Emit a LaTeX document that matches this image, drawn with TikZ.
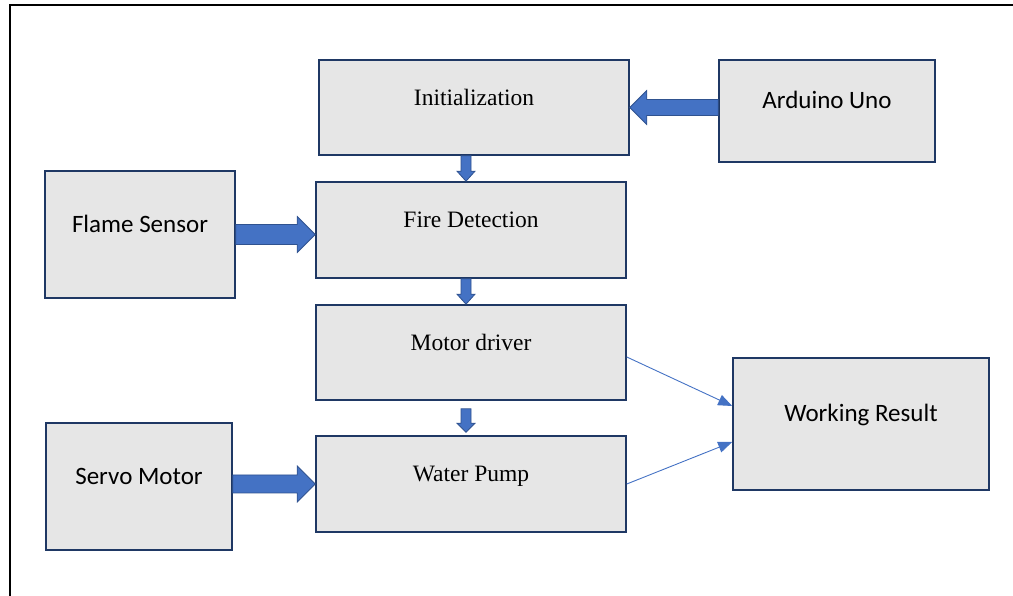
\documentclass[tikz,border=0pt]{standalone}
\usepackage{fontspec}
\setmainfont{Liberation Serif}
\newfontfamily\labelsans{Carlito}
\usetikzlibrary{calc, arrows.meta}
\definecolor{boxgray}{RGB}{230, 230, 230}
\definecolor{boxnavy}{RGB}{31, 56, 100}
\definecolor{arrowblue}{RGB}{68, 114, 196}
\definecolor{arrowedge}{RGB}{47, 82, 143}

\begin{document}
\begin{tikzpicture}[
    x=1pt, y=1pt,
    block/.style={draw=boxnavy, line width=1.6pt, fill=boxgray, inner sep=0pt, text height=18pt, text depth=22pt},
    serifblock/.style={block, font=\fontsize{23.5}{28}\selectfont},
    sansblock/.style={block, font=\labelsans\fontsize{25}{30}\selectfont},
    fatarrow/.style={draw=arrowedge, line width=0.8pt, fill=arrowblue, line join=miter},
    thinarrow/.style={draw=arrowblue, line width=0.9pt, -{Triangle[length=14pt, width=11pt]}}
]
    \useasboundingbox (0,0) rectangle (1013,596);
    \draw[line width=2pt] (10,0) -- (10,591) -- (1013,591);

    \node[serifblock, minimum width=310, minimum height=95] (init) at (474, 488.5) {Initialization};
    \node[sansblock, minimum width=216, minimum height=102] (arduino) at (827, 485) {Arduino Uno};
    \node[serifblock, minimum width=310, minimum height=96] (fire) at (471, 366) {Fire Detection};
    \node[sansblock, minimum width=190, minimum height=127] (flame) at (140, 361.5) {Flame Sensor};
    \node[serifblock, minimum width=310, minimum height=95] (motor) at (471, 243.5) {Motor driver};
    \node[serifblock, minimum width=310, minimum height=96] (pump) at (471, 112) {Water Pump};
    \node[sansblock, minimum width=186, minimum height=127] (servo) at (139, 109.5) {Servo Motor};
    \node[sansblock, minimum width=256, minimum height=132] (result) at (861, 172) {Working Result};

    \coordinate (col) at (466, 0);
    \coordinate (gaptop) at ($(col |- motor.south)+(0,-8)$);
    \coordinate (gapend) at ($(col |- pump.north)+(0,3)$);

    \foreach \src/\dst/\sw/\hw/\hl in {
        flame.east/flame.east -| fire.west/10pt/18pt/18pt,
        servo.east |- pump.west/pump.west/9pt/18pt/18pt,
        arduino.west |- init.east/init.east/8pt/17pt/17pt,
        col |- init.south/col |- fire.north/5pt/9pt/10pt,
        col |- fire.south/col |- motor.north/5pt/9pt/10pt,
        gaptop/gapend/5pt/9pt/9pt} {
        \path ($(\dst)!\hl!(\src)$) coordinate (hb);
        \draw[fatarrow] (\dst) -- ($(hb)!\hw!90:(\dst)$) -- ($(hb)!\sw!90:(\dst)$)
            -- ($(\src)!\sw!90:(hb)$) -- ($(\src)!\sw!-90:(hb)$)
            -- ($(hb)!\sw!-90:(\dst)$) -- ($(hb)!\hw!-90:(\dst)$) -- cycle;
    }

    \draw[thinarrow] ([yshift=-4.5]motor.east) -- ([yshift=18]result.west);
    \draw[thinarrow] (pump.east) -- ([yshift=-18]result.west);
\end{tikzpicture}
\end{document}
